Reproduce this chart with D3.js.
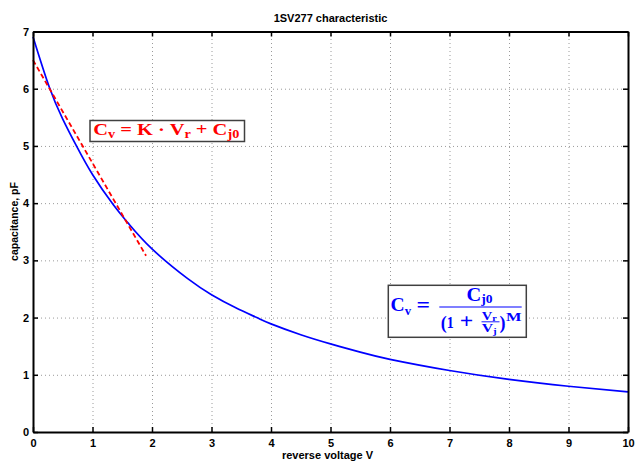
<!DOCTYPE html>
<html>
<head>
<meta charset="utf-8">
<script src="https://cdn.jsdelivr.net/npm/d3@7/dist/d3.min.js"></script>
<style>
  html, body { margin: 0; padding: 0; background: #fff; }
  svg { display: block; }
  .tick text { font-family: "Liberation Sans", Arial, sans-serif; font-weight: bold; font-size: 11px; fill: #000; }
</style>
</head>
<body>
<svg id="chart" width="635" height="461"></svg>
<script>
// Capacitance curve of the 1SV277 varactor (values in pF over reverse voltage in V)
const voltage     = [0, 0.27, 0.5, 0.73, 1.0, 1.35, 1.6, 2.0, 2.6, 3.0, 3.4, 3.76, 4.0, 4.5, 5.0, 5.5, 6.0, 7.0, 8.0, 9.0, 10.0];
const capacitance = [6.91, 6.04, 5.47, 5.0, 4.50, 3.97, 3.65, 3.20, 2.68, 2.40, 2.175, 2.0, 1.89, 1.70, 1.54, 1.395, 1.27, 1.075, 0.92, 0.80, 0.70];

// Linear approximation over the low-voltage range
const linVoltage     = [0, 1.9];
const linCapacitance = [6.5, 3.08];

// Tick values
const xTicks = [0, 1, 2, 3, 4, 5, 6, 7, 8, 9, 10];
const yTicks = [0, 1, 2, 3, 4, 5, 6, 7];

const svg = d3.select("#chart");
const plotLeft = 33, plotRight = 628, plotTop = 31.5, plotBottom = 432;

const x = d3.scaleLinear().domain([0, 10]).range([plotLeft, plotRight]);
const y = d3.scaleLinear().domain([0, 7]).range([plotBottom, plotTop]);

// dotted grid
const grid = svg.append("g");
grid.append("g")
  .attr("transform", `translate(0,${plotBottom})`)
  .call(d3.axisBottom(x).tickValues(xTicks.slice(1, -1)).tickSize(-(plotBottom - plotTop)).tickFormat(""))
  .call(g => g.select(".domain").remove());
grid.append("g")
  .attr("transform", `translate(${plotLeft},0)`)
  .call(d3.axisLeft(y).tickValues(yTicks.slice(1, -1)).tickSize(-(plotRight - plotLeft)).tickFormat(""))
  .call(g => g.select(".domain").remove());
grid.selectAll("line").attr("stroke", "#9a9a9a").attr("stroke-width", 1).attr("stroke-dasharray", "1,3");

// curves
const pts = voltage.map((v, i) => [v, capacitance[i]]);
const line = d3.line().x(d => x(d[0])).y(d => y(d[1])).curve(d3.curveNatural);
svg.append("path").datum(pts)
  .attr("d", line).attr("fill", "none").attr("stroke", "#0000ff").attr("stroke-width", 1.7);

const lin = linVoltage.map((v, i) => [v, linCapacitance[i]]);
svg.append("path").datum(lin)
  .attr("d", d3.line().x(d => x(d[0])).y(d => y(d[1])))
  .attr("fill", "none").attr("stroke", "#ff0000").attr("stroke-width", 1.8).attr("stroke-dasharray", "5,3");

// axes box with inward ticks
function styleAxis(g) {
  g.select(".domain").attr("stroke", "#000").attr("stroke-width", 2);
  g.selectAll(".tick line").attr("stroke", "#000").attr("stroke-width", 1.5);
}
svg.append("g").attr("transform", `translate(0,${plotBottom})`)
  .call(d3.axisBottom(x).tickValues(xTicks).tickSize(-5).tickSizeOuter(0).tickPadding(7).tickFormat(d3.format("d")))
  .call(styleAxis);
svg.append("g").attr("transform", `translate(0,${plotTop})`)
  .call(d3.axisTop(x).tickValues(xTicks).tickSize(-5).tickSizeOuter(0).tickFormat(""))
  .call(styleAxis);
svg.append("g").attr("transform", `translate(${plotLeft},0)`)
  .call(d3.axisLeft(y).tickValues(yTicks).tickSize(-5).tickSizeOuter(0).tickPadding(4).tickFormat(d3.format("d")))
  .call(styleAxis);
svg.append("g").attr("transform", `translate(${plotRight},0)`)
  .call(d3.axisRight(y).tickValues(yTicks).tickSize(-5).tickSizeOuter(0).tickFormat(""))
  .call(styleAxis);

// titles
const sans = "'Liberation Sans', Arial, sans-serif";
svg.append("text").attr("x", (plotLeft + plotRight) / 2).attr("y", 21.5)
  .attr("text-anchor", "middle").attr("font-family", sans).attr("font-weight", "bold").attr("font-size", 11)
  .text("1SV277 characteristic");
svg.append("text").attr("x", (plotLeft + plotRight) / 2 - 3).attr("y", 458.5)
  .attr("text-anchor", "middle").attr("font-family", sans).attr("font-weight", "bold").attr("font-size", 11)
  .text("reverse voltage V");
svg.append("text").attr("transform", "translate(18.3,221.5) rotate(-90)")
  .attr("text-anchor", "middle").attr("font-family", sans).attr("font-weight", "bold").attr("font-size", 10.5)
  .text("capacitance, pF");

// formula boxes
const serif = "'Liberation Serif', 'Times New Roman', serif";
function piece(str, px, py, size, color, width) {
  const t = svg.append("text").attr("x", px).attr("y", py)
    .attr("font-family", serif).attr("font-weight", "bold").attr("font-size", size)
    .attr("fill", color).text(str);
  if (width) t.attr("textLength", width).attr("lengthAdjust", "spacingAndGlyphs");
  return t;
}
// symbol with a subscript, as one text element
function subscripted(base, sub, px, py, size, subSize, drop, color, width) {
  const t = svg.append("text").attr("x", px).attr("y", py)
    .attr("font-family", serif).attr("font-weight", "bold").attr("font-size", size)
    .attr("fill", color);
  t.append("tspan").text(base);
  t.append("tspan").attr("font-size", subSize).attr("dy", drop).text(sub);
  if (width) t.attr("textLength", width).attr("lengthAdjust", "spacingAndGlyphs");
  return t;
}

// linear model
svg.append("rect").attr("x", 90).attr("y", 120.5).attr("width", 154.5).attr("height", 21)
  .attr("fill", "#fff").attr("stroke", "#404040").attr("stroke-width", 1.5);
const red = "#ff0000";
const rt = svg.append("text").attr("x", 93.3).attr("y", 135)
  .attr("font-family", serif).attr("font-weight", "bold").attr("font-size", 16.5).attr("fill", red)
  .attr("textLength", 146).attr("lengthAdjust", "spacingAndGlyphs");
rt.append("tspan").text("C");
rt.append("tspan").attr("font-size", 11.5).attr("dy", 3).text("v");
rt.append("tspan").attr("dy", -3).text(" = K · V");
rt.append("tspan").attr("font-size", 11.5).attr("dy", 3).text("r");
rt.append("tspan").attr("dy", -3).text(" + C");
rt.append("tspan").attr("font-size", 11.5).attr("dy", 3).text("j0");

// junction model
svg.append("rect").attr("x", 388.3).attr("y", 285.3).attr("width", 138).attr("height", 52)
  .attr("fill", "#fff").attr("stroke", "#404040").attr("stroke-width", 1.5);
const blue = "#0000ff";
subscripted("C", "v", 390.5, 311.3, 18.5, 12, 3.2, blue, 20.5);
piece("=", 416.5, 311.5, 20, blue, 13.5);
svg.append("line").attr("x1", 439.3).attr("x2", 521.7).attr("y1", 307).attr("y2", 307)
  .attr("stroke", blue).attr("stroke-width", 1.2);
subscripted("C", "j0", 466.5, 300.5, 18, 12, 2.7, blue, 26);
piece("(", 440.8, 329, 18, blue);
piece("1", 446.7, 327.5, 17, blue, 7);
piece("+", 459.8, 328, 20, blue, 13.5);
subscripted("V", "r", 481.7, 319.6, 11.5, 8, 1.4, blue, 15);
svg.append("line").attr("x1", 481.5).attr("x2", 499.5).attr("y1", 321.8).attr("y2", 321.8)
  .attr("stroke", blue).attr("stroke-width", 0.9);
subscripted("V", "j", 481.7, 331.8, 11.5, 8, 2, blue, 15);
piece(")", 499.5, 329, 18, blue);
piece("M", 506, 320.5, 12, blue, 15.5);
</script>
</body>
</html>
